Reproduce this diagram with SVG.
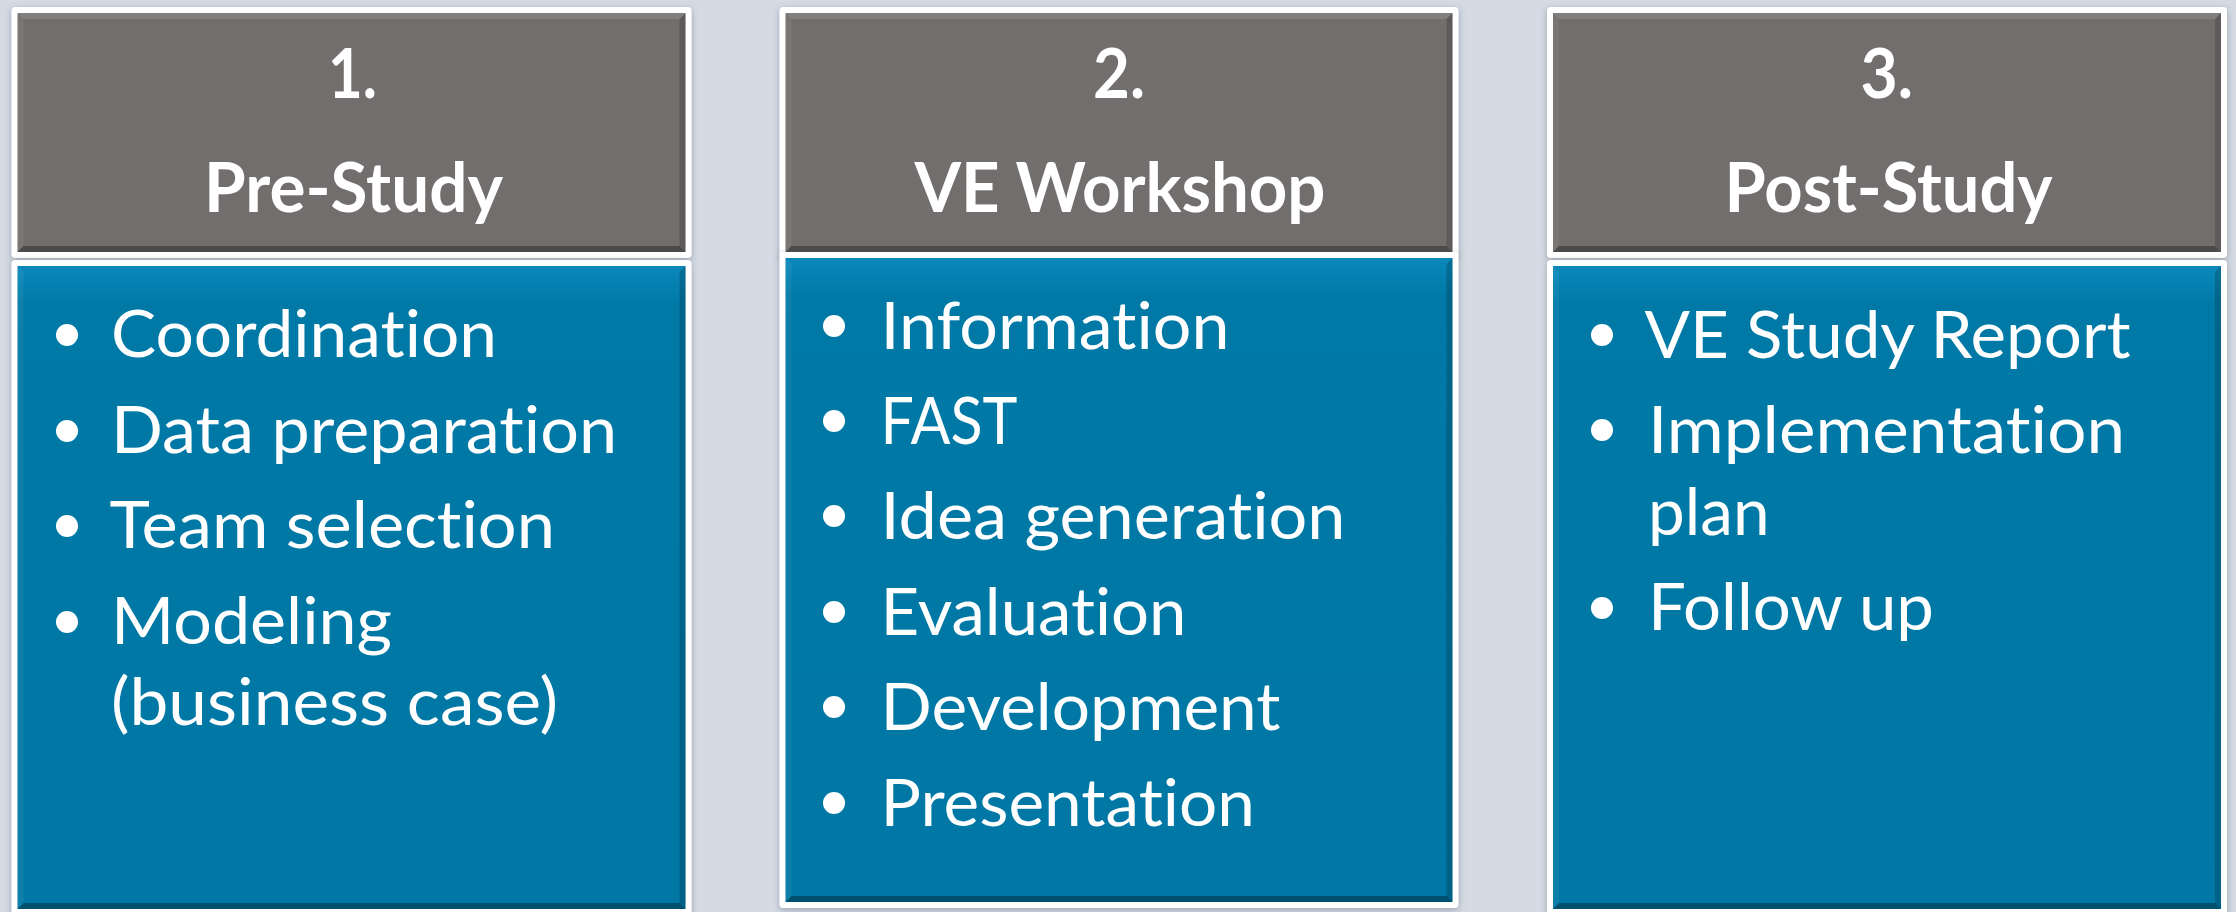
<svg xmlns="http://www.w3.org/2000/svg" width="2236" height="912" viewBox="0 0 2236 912">
  <defs>
    <filter id="shadow" x="-5%" y="-5%" width="110%" height="110%">
      <feDropShadow dx="0" dy="2" stdDeviation="3.5" flood-color="#5a6270" flood-opacity="0.45"/>
    </filter>
    <linearGradient id="blueGrad" x1="0" y1="0" x2="0" y2="1">
      <stop offset="0" stop-color="#0a88ba"/>
      <stop offset="0.06" stop-color="#0079a6"/>
      <stop offset="1" stop-color="#0077a4"/>
    </linearGradient>
    <style>
      .frame { fill: #ffffff; filter: url(#shadow); }
      .gray { fill: #726e6d; }
      .blue { fill: url(#blueGrad); }
      .hl { fill: #ffffff; opacity: 0.12; }
      .hl2 { fill: #ffffff; opacity: 0.06; }
      .sh { fill: #000000; opacity: 0.18; }
      .sh2 { fill: #000000; opacity: 0.32; }
      text { font-variant-ligatures: none; font-feature-settings: "liga" 0, "clig" 0; }
      .head { font-family: "Lato", "Open Sans", "Liberation Sans", sans-serif; font-weight: 700; font-size: 68px; fill: #ffffff; }
      .item { font-family: "Lato", "Open Sans", "Liberation Sans", sans-serif; font-weight: 400; font-size: 66px; fill: #ffffff; }
      .dot { fill: #ffffff; }
    </style>
  </defs>

  <rect x="0" y="0" width="2236" height="912" fill="#d4dbe5"/>

  <!-- Column 1 header -->
  <g id="header1">
    <rect class="frame" x="11.5" y="7" width="680" height="251" rx="4"/>
    <rect class="gray" x="17.5" y="13" width="668" height="239"/>
    <polygon class="hl" points="17.5,13 685.5,13 679.5,19 23.5,19"/>
    <polygon class="hl2" points="17.5,13 23.5,19 23.5,246 17.5,252"/>
    <polygon class="sh" points="685.5,13 679.5,19 679.5,246 685.5,252"/>
    <polygon class="sh2" points="17.5,252 685.5,252 679.5,246 23.5,246"/>
    <text class="head" x="328" y="98" textLength="49" lengthAdjust="spacingAndGlyphs">1.</text>
    <text class="head" x="204" y="212" textLength="299" lengthAdjust="spacingAndGlyphs">Pre-Study</text>
  </g>

  <!-- Column 1 body -->
  <g id="body1">
    <rect class="frame" x="11.5" y="260" width="680" height="660" rx="4"/>
    <rect class="blue" x="17.5" y="266" width="668" height="643"/>
    <polygon class="hl2" points="17.5,266 23.5,272 23.5,903 17.5,909"/>
    <polygon class="sh" points="685.5,266 679.5,272 679.5,903 685.5,909"/>
    <polygon class="sh2" points="17.5,909 685.5,909 679.5,903 23.5,903"/>
    <circle class="dot" cx="67" cy="335" r="11"/>
    <text class="item" x="111" y="357" textLength="386" lengthAdjust="spacingAndGlyphs">Coordination</text>
    <circle class="dot" cx="67" cy="431" r="11"/>
    <text class="item" x="111" y="453" textLength="506" lengthAdjust="spacingAndGlyphs">Data preparation</text>
    <circle class="dot" cx="67" cy="526" r="11"/>
    <text class="item" x="109.5" y="548" textLength="445.5" lengthAdjust="spacingAndGlyphs">Team selection</text>
    <circle class="dot" cx="67" cy="622" r="11"/>
    <text class="item" x="111" y="644" textLength="281" lengthAdjust="spacingAndGlyphs">Modeling</text>
    <text class="item" x="111" y="725" textLength="447" lengthAdjust="spacingAndGlyphs">(business case)</text>
  </g>

  <!-- Column 2 header -->
  <g id="header2">
    <rect class="frame" x="779.5" y="7" width="679" height="251" rx="4"/>
    <rect class="gray" x="785.5" y="13" width="667" height="239"/>
    <polygon class="hl" points="785.5,13 1452.5,13 1446.5,19 791.5,19"/>
    <polygon class="hl2" points="785.5,13 791.5,19 791.5,246 785.5,252"/>
    <polygon class="sh" points="1452.5,13 1446.5,19 1446.5,246 1452.5,252"/>
    <polygon class="sh2" points="785.5,252 1452.5,252 1446.5,246 791.5,246"/>
    <text class="head" x="1093" y="98" textLength="52" lengthAdjust="spacingAndGlyphs">2.</text>
    <text class="head" x="914.5" y="212" textLength="411" lengthAdjust="spacingAndGlyphs">VE Workshop</text>
  </g>

  <!-- Column 2 body -->
  <g id="body2">
    <rect class="frame" x="779.5" y="252" width="679" height="656" rx="4"/>
    <rect class="blue" x="785.5" y="258" width="667" height="644"/>
    <polygon class="hl2" points="785.5,258 791.5,264 791.5,896 785.5,902"/>
    <polygon class="sh" points="1452.5,258 1446.5,264 1446.5,896 1452.5,902"/>
    <polygon class="sh2" points="785.5,902 1452.5,902 1446.5,896 791.5,896"/>
    <circle class="dot" cx="834" cy="326" r="11"/>
    <text class="item" x="880.5" y="349" textLength="349" lengthAdjust="spacingAndGlyphs">Information</text>
    <circle class="dot" cx="834" cy="421" r="11"/>
    <text class="item" x="880.5" y="444" textLength="137" lengthAdjust="spacingAndGlyphs">FAST</text>
    <circle class="dot" cx="834" cy="516" r="11"/>
    <text class="item" x="880.5" y="539" textLength="465" lengthAdjust="spacingAndGlyphs">Idea generation</text>
    <circle class="dot" cx="834" cy="612" r="11"/>
    <text class="item" x="880.5" y="635" textLength="306" lengthAdjust="spacingAndGlyphs">Evaluation</text>
    <circle class="dot" cx="834" cy="707" r="11"/>
    <text class="item" x="880.5" y="730" textLength="400" lengthAdjust="spacingAndGlyphs">Development</text>
    <circle class="dot" cx="834" cy="803" r="11"/>
    <text class="item" x="880.5" y="825.5" textLength="374.5" lengthAdjust="spacingAndGlyphs">Presentation</text>
  </g>

  <!-- Column 3 header -->
  <g id="header3">
    <rect class="frame" x="1547" y="7" width="680" height="251" rx="4"/>
    <rect class="gray" x="1553" y="13" width="668" height="239"/>
    <polygon class="hl" points="1553,13 2221,13 2215,19 1559,19"/>
    <polygon class="hl2" points="1553,13 1559,19 1559,246 1553,252"/>
    <polygon class="sh" points="2221,13 2215,19 2215,246 2221,252"/>
    <polygon class="sh2" points="1553,252 2221,252 2215,246 1559,246"/>
    <text class="head" x="1860.5" y="98" textLength="52.5" lengthAdjust="spacingAndGlyphs">3.</text>
    <text class="head" x="1724.5" y="212" textLength="328" lengthAdjust="spacingAndGlyphs">Post-Study</text>
  </g>

  <!-- Column 3 body -->
  <g id="body3">
    <rect class="frame" x="1547" y="260" width="680" height="660" rx="4"/>
    <rect class="blue" x="1553" y="266" width="668" height="643"/>
    <polygon class="hl2" points="1553,266 1559,272 1559,903 1553,909"/>
    <polygon class="sh" points="2221,266 2215,272 2215,903 2221,909"/>
    <polygon class="sh2" points="1553,909 2221,909 2215,903 1559,903"/>
    <circle class="dot" cx="1602" cy="335" r="11"/>
    <text class="item" x="1644.5" y="357.5" textLength="486" lengthAdjust="spacingAndGlyphs">VE Study Report</text>
    <circle class="dot" cx="1602" cy="430" r="11"/>
    <text class="item" x="1648" y="452.5" textLength="477" lengthAdjust="spacingAndGlyphs">Implementation</text>
    <text class="item" x="1648" y="535" textLength="121.5" lengthAdjust="spacingAndGlyphs">plan</text>
    <circle class="dot" cx="1602" cy="608" r="11"/>
    <text class="item" x="1648" y="630" textLength="286" lengthAdjust="spacingAndGlyphs">Follow up</text>
  </g>

  <g id="connectors"/>
</svg>
